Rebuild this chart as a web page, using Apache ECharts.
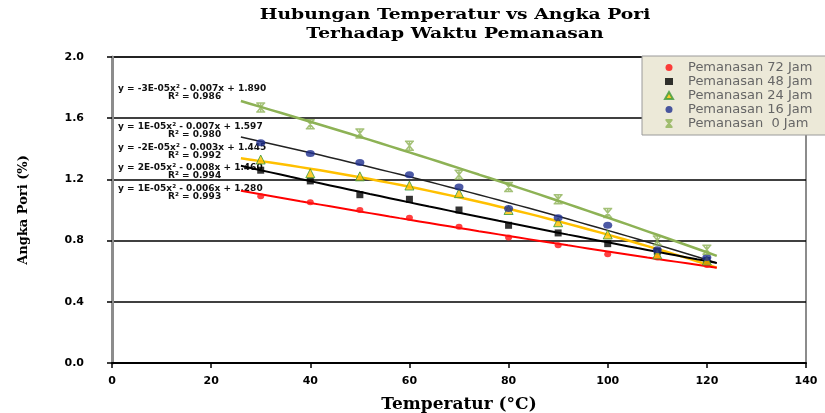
<!DOCTYPE html>
<html>
<head>
<meta charset="utf-8">
<script src="https://cdn.jsdelivr.net/npm/echarts@6/dist/echarts.min.js"></script>
<style>
  html, body { margin: 0; padding: 0; background: #fff; }
  #chart { width: 825px; height: 413px; }
</style>
</head>
<body>
<div id="chart"></div>
<script>
// temperatures (°C) and pore number (%) per heating time
const temps = [30, 40, 50, 60, 70, 80, 90, 100, 110, 120];
const jam72 = [1.09, 1.05, 1.00, 0.95, 0.89, 0.82, 0.77, 0.71, 0.69, 0.64];
const jam48 = [1.26, 1.19, 1.10, 1.07, 1.00, 0.90, 0.85, 0.78, 0.73, 0.67];
const jam24 = [1.33, 1.24, 1.22, 1.16, 1.11, 1.00, 0.92, 0.84, 0.71, 0.67];
const jam16 = [1.44, 1.37, 1.31, 1.23, 1.15, 1.01, 0.95, 0.90, 0.74, 0.69];
const jam0  = [1.67, 1.56, 1.50, 1.42, 1.23, 1.15, 1.07, 0.98, 0.80, 0.74];
const names = ['Pemanasan 72 Jam', 'Pemanasan 48 Jam', 'Pemanasan 24 Jam', 'Pemanasan 16 Jam', 'Pemanasan  0 Jam'];
const equations = [
  ['y = -3E-05x² - 0.007x + 1.890', 'R² = 0.986'],
  ['y = 1E-05x² - 0.007x + 1.597', 'R² = 0.980'],
  ['y = -2E-05x² - 0.003x + 1.445', 'R² = 0.992'],
  ['y = 2E-05x² - 0.008x + 1.460', 'R² = 0.994'],
  ['y = 1E-05x² - 0.006x + 1.280', 'R² = 0.993']
];
const trendRange = [26, 122];

// least squares quadratic (like the Excel polynomial trendline)
function polyFit(xs, ys) {
  const s = [0, 0, 0, 0, 0], t = [0, 0, 0];
  xs.forEach((x, i) => {
    for (let k = 0; k < 5; k++) s[k] += Math.pow(x, k);
    for (let k = 0; k < 3; k++) t[k] += Math.pow(x, k) * ys[i];
  });
  const m = [[s[0], s[1], s[2], t[0]], [s[1], s[2], s[3], t[1]], [s[2], s[3], s[4], t[2]]];
  for (let i = 0; i < 3; i++) {
    for (let j = i + 1; j < 3; j++) {
      const f = m[j][i] / m[i][i];
      for (let k = i; k < 4; k++) m[j][k] -= f * m[i][k];
    }
  }
  const c = [0, 0, 0];
  for (let i = 2; i >= 0; i--) {
    let v = m[i][3];
    for (let k = i + 1; k < 3; k++) v -= m[i][k] * c[k];
    c[i] = v / m[i][i];
  }
  return c;
}
function trend(ys) {
  const c = polyFit(temps, ys);
  const pts = [];
  for (let x = trendRange[0]; x <= trendRange[1]; x += 2) pts.push([x, c[0] + c[1] * x + c[2] * x * x]);
  return pts;
}
const pairs = ys => temps.map((t, i) => [t, ys[i]]);

const green = '#8DB255';
const serif = 'DejaVu Serif';
const sans = 'DejaVu Sans';

const chart = echarts.init(document.getElementById('chart'));

const eqTexts = [];
const eqTop = [84, 122, 143, 163, 184];
equations.forEach((e, i) => {
  eqTexts.push({
    type: 'text', left: 118, top: eqTop[i],
    style: { text: e[0], font: 'bold 9px ' + sans, fill: '#111' }
  });
  eqTexts.push({
    type: 'text', left: 168, top: eqTop[i] + 8,
    style: { text: e[1], font: 'bold 9px ' + sans, fill: '#111' }
  });
});

chart.setOption({
  animation: false,
  grid: {
    left: 112, right: 19, top: 57, bottom: 50,
    containLabel: false, outerBoundsMode: 'none',
    show: true, borderColor: '#8c8c8c', borderWidth: 2
  },
  graphic: [
    {
      type: 'text', x: 455, y: 6, scaleX: 1.25, originX: 0,
      style: {
        text: 'Hubungan Temperatur vs Angka Pori\nTerhadap Waktu Pemanasan',
        font: 'bold 15px ' + serif, fill: '#000', align: 'center', lineHeight: 19
      }
    }
  ].concat(eqTexts),
  legend: {
    data: names,
    orient: 'vertical',
    left: 642, top: 56,
    backgroundColor: '#ECE9D8',
    borderColor: '#9a9a9a', borderWidth: 1,
    padding: [5, 40, 5, 22],
    itemGap: 1,
    itemWidth: 8, itemHeight: 7,
    textStyle: { color: '#666', fontSize: 13, fontFamily: sans, padding: [0, 0, 0, 10] }
  },
  xAxis: {
    type: 'value', min: 0, max: 140, interval: 20,
    name: 'Temperatur (°C)', nameLocation: 'middle', nameGap: 33,
    nameTextStyle: { fontFamily: serif, fontWeight: 'bold', fontSize: 17, color: '#000' },
    axisLine: { lineStyle: { color: '#000', width: 2 } },
    axisTick: { length: 5, lineStyle: { color: '#000', width: 1.5 } },
    axisLabel: { color: '#000', fontFamily: sans, fontWeight: 'bold', fontSize: 11, margin: 13 },
    splitLine: { show: false }
  },
  yAxis: {
    type: 'value', min: 0, max: 2, interval: 0.4,
    name: 'Angka Pori (%)', nameLocation: 'middle', nameGap: 82,
    nameTextStyle: { fontFamily: serif, fontWeight: 'bold', fontSize: 13, color: '#000' },
    axisLine: { show: true, lineStyle: { color: '#8c8c8c', width: 3 } },
    axisTick: { show: true, length: 5, lineStyle: { color: '#000', width: 1.5 } },
    axisLabel: { color: '#000', fontFamily: sans, fontWeight: 'bold', fontSize: 11, margin: 28,
      formatter: v => v.toFixed(1) },
    splitLine: { lineStyle: { color: '#000', width: 1.5 } }
  },
  series: [
    { type: 'line', data: trend(jam0), showSymbol: false, silent: true, z: 2,
      lineStyle: { color: green, width: 2.5 } },
    { type: 'line', data: trend(jam16), showSymbol: false, silent: true, z: 2,
      lineStyle: { color: '#222', width: 1.5 } },
    { type: 'line', data: trend(jam24), showSymbol: false, silent: true, z: 2,
      lineStyle: { color: '#FFC000', width: 2.5 } },
    { type: 'line', data: trend(jam48), showSymbol: false, silent: true, z: 2,
      lineStyle: { color: '#000', width: 2 } },
    { type: 'line', data: trend(jam72), showSymbol: false, silent: true, z: 2,
      lineStyle: { color: '#FF0000', width: 2 } },
    { name: names[0], type: 'scatter', data: pairs(jam72), symbol: 'circle', symbolSize: [7, 6], z: 3,
      itemStyle: { color: '#FF1010' } },
    { name: names[1], type: 'scatter', data: pairs(jam48), symbol: 'rect', symbolSize: 7, z: 3,
      itemStyle: { color: '#000' } },
    { name: names[2], type: 'scatter', data: pairs(jam24), symbol: 'triangle', symbolSize: 9, z: 3,
      itemStyle: { color: '#FFC000', borderColor: '#3A9A3A', borderWidth: 1 } },
    { name: names[3], type: 'scatter', data: pairs(jam16), symbol: 'circle', symbolSize: [9, 7], z: 3,
      itemStyle: { color: '#1F2F8F' } },
    { name: names[4], type: 'scatter', data: pairs(jam0),
      symbol: 'path://M0,0L10,0M0,10L10,10M1,0L9,10M9,0L1,10M5,0L5,10', symbolSize: 9, z: 3,
      itemStyle: { color: 'transparent', borderColor: green, borderWidth: 1.5 } }
  ]
});
</script>
</body>
</html>
